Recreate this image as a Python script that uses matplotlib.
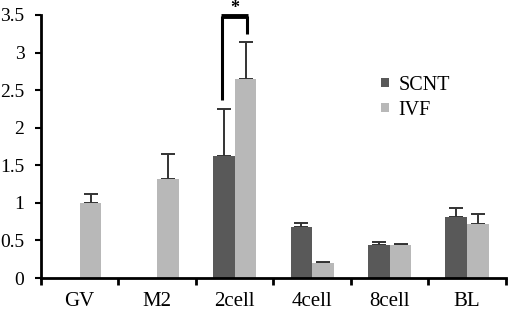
import matplotlib
matplotlib.use("Agg")
import matplotlib.pyplot as plt
import numpy as np

categories = ["GV", "M2", "2cell", "4cell", "8cell", "BL"]
scnt = [np.nan, np.nan, 1.62, 0.68, 0.44, 0.81]
scnt_err = [np.nan, np.nan, 0.63, 0.05, 0.04, 0.12]
ivf = [1.00, 1.32, 2.65, 0.20, 0.44, 0.72]
ivf_err = [0.12, 0.33, 0.49, 0.01, 0.01, 0.13]
yticks = [0, 0.5, 1, 1.5, 2, 2.5, 3, 3.5]
ytick_labels = ["0", "0.5", "1", "1.5", "2", "2.5", "3", "3.5"]

plt.rcParams['font.family'] = ['Liberation Serif', 'DejaVu Serif']

fig = plt.figure(figsize=(5.10, 3.11), dpi=100)
ax = fig.add_axes([0.0804, 0.1061, 0.9116, 0.8457])

x = np.arange(len(categories))
w = 0.28
dark = "#595959"
light = "#b8b8b8"
ax.bar(x - w/2, scnt, w, color=dark, label="SCNT", zorder=2)
ax.bar(x + w/2, ivf, w, color=light, label="IVF", zorder=2)
ax.errorbar(x - w/2, scnt, yerr=[np.zeros(len(x)), scnt_err], fmt="none",
            ecolor="#333333", elinewidth=1.4, capsize=5, capthick=1.4, zorder=1)
ax.errorbar(x + w/2, ivf, yerr=[np.zeros(len(x)), ivf_err], fmt="none",
            ecolor="#333333", elinewidth=1.4, capsize=5, capthick=1.4, zorder=1)

# significance bracket on 2cell
i = 2
xl, xr = x[i] - w/2 - 0.03, x[i] + w/2 + 0.02
ytop = 3.48
ax.plot([xl, xl], [2.37, ytop], color="black", lw=2.2, solid_capstyle="butt", clip_on=False)
ax.plot([xr, xr], [3.25, ytop], color="black", lw=2.2, solid_capstyle="butt", clip_on=False)
ax.plot([xl - 0.012, xr + 0.012], [ytop, ytop], color="black", lw=3.5, solid_capstyle="butt", clip_on=False)
ax.text((xl + xr) / 2, 3.58, "*", ha="center", va="center", fontsize=13,
        fontweight="bold", clip_on=False)

ax.set_xlim(-0.5, len(categories) - 0.5)
ax.set_ylim(0, 3.5)
ax.set_yticks(yticks)
ax.set_yticklabels(ytick_labels, fontsize=14)
ax.set_xticks(x)
ax.set_xticklabels(categories, fontsize=15)
ax.set_xticks(np.arange(-0.5, len(categories)), minor=True)
ax.tick_params(axis="x", which="major", length=0, pad=10)
ax.tick_params(axis="x", which="minor", length=5, width=2, direction="out")
ax.tick_params(axis="y", length=4, width=1.5, direction="out", pad=8)
for s in ["top", "right"]:
    ax.spines[s].set_visible(False)
for s in ["left", "bottom"]:
    ax.spines[s].set_linewidth(2)

leg = ax.legend(loc="upper left", bbox_to_anchor=(0.715, 0.80), frameon=False,
                fontsize=14.5, handlelength=0.35, handleheight=0.35, handletextpad=0.5,
                labelspacing=0.3, borderaxespad=0)

fig.savefig("out.png", dpi=100)
